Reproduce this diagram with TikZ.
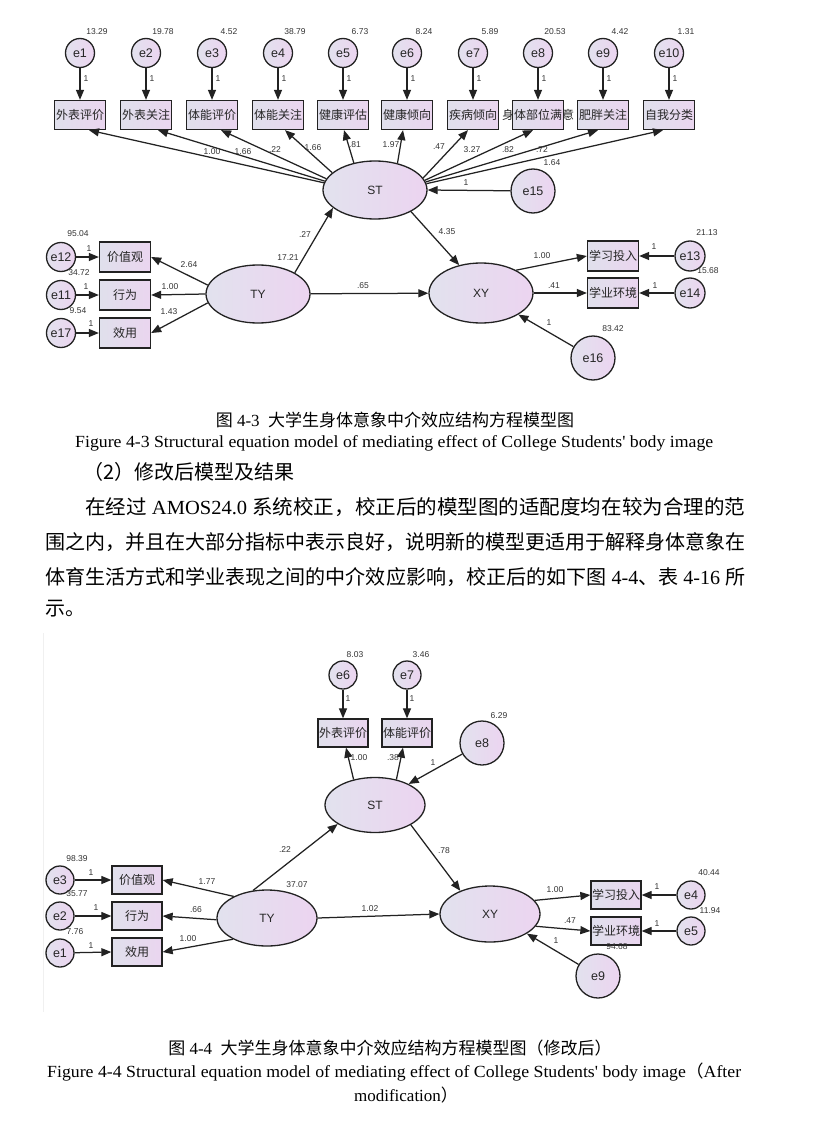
\documentclass[tikz,border=0pt]{standalone}
\usepackage{fontspec}
\usepackage{graphicx}
\usetikzlibrary{shapes.geometric,arrows.meta}
\setmainfont{Liberation Serif}
\newfontfamily\arial{Liberation Sans}
\newfontfamily\cjk{Noto Sans CJK SC}
\newcommand\C[1]{{\cjk #1}}
\newcommand\wideTxt[1]{\makebox[0pt]{#1}}
\definecolor{lc}{HTML}{222222}
\definecolor{txt}{HTML}{262626}
\definecolor{numc}{HTML}{333333}
\definecolor{cL}{HTML}{E2E2EE}
\definecolor{cR}{HTML}{ECD4F0}
\definecolor{bL}{HTML}{E0E0EC}
\definecolor{bR}{HTML}{EAD5EF}
\tikzset{
 err/.style={circle, draw=lc, line width=1.3pt, inner sep=0pt, minimum size=29pt, left color=cL, right color=cR, font=\arial\fontsize{12.5}{14}\selectfont, text=txt},
 errB/.style={err, minimum size=44pt},
 obs/.style={rectangle, draw=lc, line width=1.3pt, inner sep=0pt, minimum width=51pt, minimum height=29pt, left color=bL, right color=bR, font=\cjk\fontsize{12}{14}\selectfont, text=txt},
 lat/.style={ellipse, draw=lc, line width=1.3pt, inner sep=0pt, minimum width=104pt, minimum height=58pt, left color=cL, right color=cR, font=\arial\fontsize{12}{14}\selectfont, text=txt},
 arr/.style={draw=lc, line width=1.25pt, -{Triangle[length=10pt,width=8pt]}},
 num/.style={font=\arial\fontsize{8.5}{10}\selectfont, text=numc, inner sep=0pt},
 captxt/.style={font=\fontsize{17}{20}\selectfont, inner sep=0pt, text=black},
 bodytxt/.style={font=\fontsize{20}{24}\selectfont, inner sep=0pt, text=black},
}
\begin{document}
\begin{tikzpicture}[x=1pt,y=-1pt]
\fill[white] (0,0) rectangle (814,1126);
\useasboundingbox (0,0) rectangle (814,1126);

% ================= Diagram 1 =================
\node[lat] (ST) at (375,190) {ST};
\node[lat] (TY) at (258,294) {TY};
\node[lat, minimum height=60pt] (XY) at (481,293) {XY};

\foreach \i/\x/\t/\v in {1/80/外表评价/13.29, 2/146/外表关注/19.78, 3/212/体能评价/4.52, 4/278/体能关注/38.79, 5/343/健康评估/6.73, 6/407/健康倾向/8.24, 7/473/疾病倾向/5.89, 8/538/{\wideTxt{身体部位满意}}/20.53, 9/603/肥胖关注/4.42, 10/669/自我分类/1.31}{
  \node[obs] (b\i) at (\x,115) {\t};
  \node[err] (e\i) at (\x,53) {e\i};
  \draw[arr] (e\i) -- (b\i);
  \node[num] at (\x+17,32) {\v};
  \node[num] at (\x+6,79) {1};
}
\foreach \i/\a/\s in {1/172/9, 2/170/12, 3/167/9, 4/158/7, 5/128/1, 6/50/-4, 7/14/-5, 8/11/-5, 9/9/-5, 10/7/-6}{
  \draw[arr] (ST.\a) -- ([xshift=\s]b\i.south);
}
\node[num] at (212,152) {1.00};
\node[num] at (243,152) {1.66};
\node[num] at (275,150) {.22};
\node[num] at (313,148) {1.66};
\node[num] at (355,145) {.81};
\node[num] at (391,145) {1.97};
\node[num] at (439,147) {.47};
\node[num] at (472,150) {3.27};
\node[num] at (508,150) {.82};
\node[num] at (542,150) {.72};

\node[errB] (e15) at (533,191) {e15};
\draw[arr] (e15) -- (ST.0);
\node[num] at (552,163) {1.64};
\node[num] at (466,183) {1};

% left block
\node[obs, minimum height=30pt] (b11) at (125,257) {价值观};
\node[obs, minimum height=30pt] (b12) at (125,295) {行为};
\node[obs, minimum height=30pt] (b13) at (125,333) {效用};
\node[err] (e12) at (61,257) {e12};
\node[err] (e11) at (61,295) {e11};
\node[err] (e17) at (61,333) {e17};
\draw[arr] (e12) -- (b11);
\draw[arr] (e11) -- (b12);
\draw[arr] (e17) -- (b13);
\draw[arr] (TY.170) -- (b11.east);
\draw[arr] (TY.180) -- (b12.east);
\draw[arr] (TY.190) -- (b13.east);
\node[num] at (78,234) {95.04};
\node[num] at (79,273) {34.72};
\node[num] at (78,311) {9.54};
\node[num] at (89,249) {1};
\node[num] at (86,287) {1};
\node[num] at (91,324) {1};
\node[num] at (189,265) {2.64};
\node[num] at (170,287) {1.00};
\node[num] at (169,312) {1.43};

% structural
\draw[arr] (TY.30) -- (ST.203);
\draw[arr] (ST.-31) -- (XY.128);
\draw[arr] (TY) -- (XY);
\node[num] at (288,258) {17.21};
\node[num] at (305,235) {.27};
\node[num] at (363,286) {.65};
\node[num] at (447,232) {4.35};

% right block
\node[obs, minimum height=30pt] (b14) at (613,256) {学习投入};
\node[obs, minimum height=30pt] (b15) at (613,293) {学业环境};
\node[err, minimum size=30pt] (e13) at (690,256) {e13};
\node[err, minimum size=30pt] (e14) at (690,293) {e14};
\draw[arr] (e13) -- (b14);
\draw[arr] (e14) -- (b15);
\draw[arr] (XY.33) -- (b14.west);
\draw[arr] (XY.east) -- (b15.west);
\node[num] at (707,233) {21.13};
\node[num] at (708,271) {15.68};
\node[num] at (654,247) {1};
\node[num] at (655,286) {1};
\node[num] at (542,256) {1.00};
\node[num] at (554,286) {.41};
\node[errB] (e16) at (593,358) {e16};
\draw[arr] (e16) -- (XY.-30);
\node[num] at (613,329) {83.42};
\node[num] at (549,323) {1};

% ================= Captions and text =================
\node[captxt] (cap1) at (395,420) {\C{图} 4-3\ \ \C{大学生身体意象中介效应结构方程模型图}};
\node[captxt, anchor=west] (cap1e) at (75,443) {\resizebox{638pt}{\height}{Figure 4-3 Structural equation model of mediating effect of College Students\textquotesingle\ body image}};
\node[bodytxt, anchor=west] (p0) at (83,472) {\C{（2）修改后模型及结果}};
\node[bodytxt, anchor=west] (p1) at (85,507) {\resizebox{660pt}{\height}{\C{在经过} AMOS24.0 \C{系统校正，校正后的模型图的适配度均在较为合理的范}}};
\node[bodytxt, anchor=west] (p2) at (45,542) {\resizebox{700pt}{\height}{\C{围之内，并且在大部分指标中表示良好，说明新的模型更适用于解释身体意象在}}};
\node[bodytxt, anchor=west] (p3) at (45,577) {\resizebox{700pt}{\height}{\C{体育生活方式和学业表现之间的中介效应影响，校正后的如下图} 4-4\C{、表} 4-16 \C{所}}};
\node[bodytxt, anchor=west] (p4) at (45,609) {\C{示。}};

% ================= Diagram 2 =================
\draw[gray!12, line width=1pt] (43,633) -- (43,1012);

\node[lat, minimum width=100pt, minimum height=55pt] (ST2) at (375,805) {ST};
\node[lat, minimum width=100pt, minimum height=56pt] (TY2) at (267,918) {TY};
\node[lat, minimum width=100pt, minimum height=56pt] (XY2) at (490,914) {XY};

\node[obs, minimum width=50pt, minimum height=28pt] (c1) at (343,733) {外表评价};
\node[obs, minimum width=50pt, minimum height=28pt] (c2) at (407,733) {体能评价};
\node[err, minimum size=28pt] (f6) at (343,675) {e6};
\node[err, minimum size=28pt] (f7) at (407,675) {e7};
\draw[arr] (f6) -- (c1);
\draw[arr] (f7) -- (c2);
\draw[arr] (ST2.130) -- ([xshift=3]c1.south);
\draw[arr] (ST2.50) -- ([xshift=-4]c2.south);
\node[errB] (f8) at (482,743) {e8};
\draw[arr] (f8) -- (ST2.32);
\node[num] at (355,655) {8.03};
\node[num] at (421,655) {3.46};
\node[num] at (348,699) {1};
\node[num] at (412,699) {1};
\node[num] at (359,758) {1.00};
\node[num] at (393,758) {.38};
\node[num] at (499,716) {6.29};
\node[num] at (433,763) {1};

\node[obs, minimum width=50pt, minimum height=28pt] (c3) at (137,880) {价值观};
\node[obs, minimum width=50pt, minimum height=28pt] (c4) at (137,916) {行为};
\node[obs, minimum width=50pt, minimum height=28pt] (c5) at (137,952) {效用};
\node[err, minimum size=28pt] (f3) at (60,880) {e3};
\node[err, minimum size=28pt] (f2) at (60,916) {e2};
\node[err, minimum size=28pt] (f1) at (60,953) {e1};
\draw[arr] (f3) -- (c3);
\draw[arr] (f2) -- (c4);
\draw[arr] (f1) -- (c5.west);
\draw[arr] (TY2.147) -- (c3.east);
\draw[arr] (TY2.182) -- (c4.east);
\draw[arr] (TY2.212) -- (c5.east);
\node[num] at (77,859) {98.39};
\node[num] at (77,894) {35.77};
\node[num] at (75,932) {7.76};
\node[num] at (91,873) {1};
\node[num] at (96,908) {1};
\node[num] at (91,946) {1};
\node[num] at (207,882) {1.77};
\node[num] at (196,910) {.66};
\node[num] at (188,939) {1.00};

\draw[arr] (TY2.117) -- (ST2.207);
\draw[arr] (ST2.-29) -- (XY2.142);
\draw[arr] (TY2.east) -- (XY2.west);
\node[num] at (285,850) {.22};
\node[num] at (444,851) {.78};
\node[num] at (297,885) {37.07};
\node[num] at (370,909) {1.02};

\node[obs, minimum width=50pt, minimum height=28pt] (c6) at (616,895) {学习投入};
\node[obs, minimum width=50pt, minimum height=28pt] (c7) at (616,931) {学业环境};
\node[err, minimum size=28pt] (f4) at (691,895) {e4};
\node[err, minimum size=28pt] (f5) at (691,931) {e5};
\draw[arr] (f4) -- (c6);
\draw[arr] (f5) -- (c7);
\draw[arr] (XY2.17) -- (c6.west);
\draw[arr] (XY2.-15) -- (c7.west);
\node[errB] (f9) at (598,976) {e9};
\draw[arr] (f9) -- (XY2.-28);
\node[num] at (709,873) {40.44};
\node[num] at (710,911) {11.94};
\node[num] at (657,887) {1};
\node[num] at (657,924) {1};
\node[num] at (555,890) {1.00};
\node[num] at (570,921) {.47};
\node[num] at (617,947) {94.68};
\node[num] at (556,941) {1};

% ================= Caption 2 =================
\node[captxt] (cap2) at (390,1048) {\C{图} 4-4\ \ \C{大学生身体意象中介效应结构方程模型图（修改后）}};
\node[captxt, anchor=west] (cap2e) at (47,1072) {\resizebox{694pt}{\height}{Figure 4-4 Structural equation model of mediating effect of College Students\textquotesingle\ body image\C{（}After}};
\node[captxt] (cap3) at (406,1095) {modification\C{）}};
\end{tikzpicture}
\end{document}
